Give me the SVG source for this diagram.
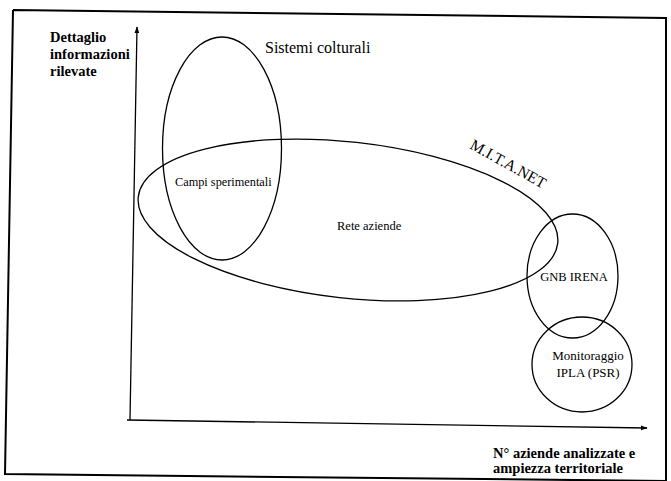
<svg xmlns="http://www.w3.org/2000/svg" width="671" height="481" viewBox="0 0 671 481">
<defs>
<marker id="arr" viewBox="0 0 10 10" refX="9" refY="5" markerWidth="7" markerHeight="7" orient="auto" markerUnits="userSpaceOnUse">
<path d="M0,1.5 L10,5 L0,8.5 Z" fill="#000"/>
</marker>
<style>
.ln{fill:none;stroke:#000;stroke-width:1.3}
.fr{fill:none;stroke:#000;stroke-width:2}
text{font-family:'Liberation Serif','DejaVu Serif',serif;fill:#000}
.b{font-weight:bold;font-size:14.5px}
.n{font-size:12.5px}
</style>
</defs>
<rect width="671" height="481" fill="#fff"/>
<path class="fr" d="M13,10 L666,18 L666,481 M13,10 L5,474 L666,481"/>
<g id="connectors">
<line class="ln" x1="130" y1="420" x2="137" y2="27" marker-end="url(#arr)"/>
<line class="ln" x1="127" y1="420" x2="647" y2="428" marker-end="url(#arr)"/>
</g>
<g font-family="Liberation Serif, DejaVu Serif, serif">
<g id="axis-y-label">
<text class="b" x="50" y="42">Dettaglio</text>
<text class="b" x="50" y="59">informazioni</text>
<text class="b" x="50" y="76">rilevate</text>
</g>
<g id="axis-x-label">
<text class="b" x="493" y="458">N° aziende analizzate e</text>
<text class="b" x="493" y="473">ampiezza territoriale</text>
</g>
<g id="sistemi-colturali">
<ellipse class="ln" cx="222" cy="148.5" rx="59.5" ry="111.5"/>
<text x="265" y="53" font-size="16">Sistemi colturali</text>
<text x="175" y="186" font-size="12.3">Campi sperimentali</text>
</g>
<g id="mita-net">
<ellipse class="ln" cx="348" cy="220" rx="211" ry="78" transform="rotate(6.3 348 220)"/>
<text x="0" y="0" font-size="15.5" transform="translate(469 148) rotate(29)">M.I.T.A.NET</text>
<text class="n" x="337" y="230">Rete aziende</text>
</g>
<g id="gnb-irena">
<ellipse class="ln" cx="572.5" cy="276" rx="45.5" ry="62"/>
<text class="n" x="574" y="281" text-anchor="middle">GNB IRENA</text>
</g>
<g id="monitoraggio">
<ellipse class="ln" cx="582" cy="364.5" rx="50" ry="47.5"/>
<text x="588" y="360" font-size="13" text-anchor="middle">Monitoraggio</text>
<text x="588" y="377" font-size="13" text-anchor="middle">IPLA (PSR)</text>
</g>
</g>
</svg>
